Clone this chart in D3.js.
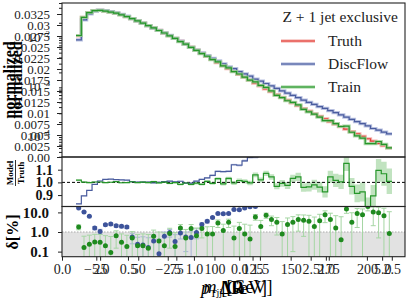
<!DOCTYPE html>
<html>
<head>
<meta charset="utf-8">
<script src="https://cdnjs.cloudflare.com/ajax/libs/d3/7.8.5/d3.min.js"></script>
<style>
body { margin: 0; background: #fff; }
text { font-family: "Liberation Serif", "DejaVu Serif", serif; }
</style>
</head>
<body>
<svg id="chart" width="411" height="304"></svg>
<script>
// normalized truth histogram, one value per bin
var truth = [0.01087, 0.02566, 0.0321, 0.0350, 0.0354, 0.0344, 0.0328, 0.0310, 0.0290, 0.0266,
  0.0242, 0.0218, 0.0196, 0.0175, 0.0157, 0.0140, 0.0124, 0.0110, 0.00968, 0.00850,
  0.00743, 0.00646, 0.00560, 0.00485, 0.00420, 0.00364, 0.00316, 0.00275, 0.00239, 0.00209,
  0.00183, 0.00160, 0.00140, 0.00122, 0.00107, 0.000933, 0.000815, 0.000713, 0.000626, 0.000550,
  0.000483, 0.000426, 0.000375, 0.000331, 0.000294, 0.000260, 0.000231, 0.000204, 0.000182, 0.000162,
  0.000144, 0.0001285, 0.000115, 0.0001028, 0.0000920, 0.0000823, 0.0000740, 0.0000665, 0.0000600];

// model / truth
var trainRatio = [1.018, 1.0016, 0.9976, 1.0031, 1.003, 0.998, 1.0009, 1.0065, 0.997, 0.9982,
  1.0049, 0.998, 1.002, 0.9985, 1.006, 0.9965, 1.002, 0.9915, 0.9982, 0.984,
  0.995, 0.985, 0.9935, 0.985, 1.008, 0.992, 1.029, 0.988, 1.031, 0.995,
  1.015, 1.008, 0.9956, 1.059, 1.019, 1.071, 1.043, 0.969, 0.992, 0.976,
  1.031, 1.043, 0.96, 0.965, 0.981, 0.962, 0.925, 1.043, 1.016, 1.004,
  1.15, 0.969, 0.913, 0.925, 0.80, 0.894, 1.095, 1.068, 1.0085];
var discRatio = [0.83, 0.894, 0.937, 0.984, 1.011, 1.024, 1.026, 1.021, 1.019, 1.018,
  1.0055, 1.0024, 1.0022, 1.0016, 0.9965, 1.0008, 1.006, 1.0095, 1.0033, 1.0089,
  0.9945, 0.9947, 1.0095, 1.024, 1.035, 1.055, 1.087, 1.085, 1.087, 1.139,
  1.135, 1.17, 1.196, 1.20, 1.25, 1.28, 1.31, 1.34, 1.36, 1.39,
  1.42, 1.45, 1.48, 1.51, 1.54, 1.57, 1.63, 1.66, 1.70, 1.72,
  1.74, 1.76, 1.78, 1.80, 1.82, 1.80, 1.86, 1.89, 1.92];

// delta [%]
var trainDelta = [1.8, 0.16, 0.24, 0.31, 0.3, 0.2, 0.09, 0.65, 0.3, 0.18,
  0.49, 0.2, 0.2, 0.15, 0.6, 0.35, 0.2, 0.85, 0.18, 1.6,
  0.5, 1.5, 0.65, 1.5, 0.8, 0.8, 2.9, 1.2, 3.1, 0.5,
  1.5, 0.8, 0.44, 5.9, 1.9, 7.1, 4.3, 3.1, 0.8, 2.4,
  3.1, 4.3, 4, 3.5, 1.9, 3.8, 7.5, 4.3, 1.6, 0.4,
  15, 3.1, 8.7, 7.5, 20, 10.6, 9.5, 6.8, 0.85];
var discDelta = [17, 10.6, 6.3, 1.6, 1.07, 2.37, 2.57, 2.1, 1.94, 1.8,
  0.55, 0.24, 0.22, 0.16, 0.35, 0.077, 0.6, 0.95, 0.33, 0.89,
  0.55, 0.53, 0.95, 2.4, 3.5, 5.5, 8.7, 8.5, 8.7, 13.9,
  13.5, 17, 19.6, 20, 25, 28, 31, 34, 36, 39,
  42, 45, 48, 51, 54, 57, 63, 66, 70, 72,
  74, 76, 78, 80, 82, 80, 86, 89, 92];

// statistical uncertainty [%]
var trainErr = [0.5, 0.45, 0.45, 0.45, 0.45, 0.45, 0.5, 0.5, 0.5, 0.5,
  0.55, 0.55, 0.6, 0.6, 0.65, 0.65, 0.7, 0.7, 0.75, 0.8,
  0.85, 0.9, 0.95, 1.0, 1.05, 1.1, 1.2, 1.3, 1.4, 1.5,
  1.6, 1.7, 1.8, 1.9, 2.0, 2.1, 2.2, 2.4, 2.6, 2.8,
  3.0, 3.2, 3.4, 3.6, 3.9, 4.2, 4.5, 4.8, 5.2, 5.6,
  6.0, 6.5, 7.0, 7.5, 8.0, 8.5, 9.0, 9.5, 10];
var discErr = [0.3, 0.3, 0.3, 0.3, 0.3, 0.3, 0.3, 0.3, 0.3, 0.3,
  0.3, 0.3, 0.35, 0.35, 0.35, 0.35, 0.4, 0.4, 0.4, 0.45,
  0.45, 0.5, 0.5, 0.55, 0.6, 0.65, 0.7, 0.75, 0.8, 0.85,
  0.9, 1.0, 1.0, 1.1, 1.2, 1.3, 1.4, 1.5, 1.6, 1.7,
  1.8, 1.9, 2.0, 2.1, 2.2, 2.4, 2.6, 2.8, 3.0, 3.2,
  3.4, 3.6, 3.8, 4.0, 4.2, 4.4, 4.6, 4.8, 5.0];

var legendTitle = "Z + 1 jet exclusive";
var seriesNames = ["Truth", "DiscFlow", "Train"];
var seriesColors = ["#e3403a", "#4a5c9e", "#26962a"];
var bandColors = ["#f2a19c", "#a7b2d8", "#98d096"];

var logTicks = [1e-4, 1e-3, 1e-2];
var linTicks = [0, 0.0025, 0.005, 0.0075, 0.01, 0.0125, 0.015, 0.0175, 0.02, 0.0225, 0.025, 0.0275, 0.03, 0.0325];
var ratioTicks = [0.9, 1.0, 1.1];
var deltaTicks = [0.1, 1, 10];
var drTicks = [0, 0.5, 1, 1.5, 2, 2.5];
var etaTicks = [-5, -2.5, 0, 2.5, 5];
var ptTicks = [25, 50, 75, 100, 125, 150, 175, 200];

var L = 62, R = 405;
var mainTop = 3, mainBot = 157, ratioBot = 206.5, deltaBot = 256.7;
var n = truth.length;
var idx = d3.range(n);

var svg = d3.select("#chart");

var x = d3.scaleLinear().domain([-2.61, 61.43]).range([L, R]);
var yMain = d3.scaleLog().domain([3.95e-5, 0.05]).range([mainBot, mainTop]);
var yLin = d3.scaleLinear().domain([0, 0.035]).range([mainBot, mainTop]);
var yRatio = d3.scaleLinear().domain([0.81, 1.2]).range([ratioBot, mainBot]);
var yDelta = d3.scaleLog().domain([0.055, 20]).range([deltaBot, ratioBot]);

var train = truth.map(function(d, i) { return d * trainRatio[i]; });
var disc = truth.map(function(d, i) { return d * discRatio[i]; });

function clip(id, y0, y1) {
  svg.append("clipPath").attr("id", id).append("rect")
    .attr("x", L).attr("y", y0).attr("width", R - L).attr("height", y1 - y0);
}
clip("cMain", mainTop, mainBot);
clip("cRatio", mainBot, ratioBot);
clip("cDelta", ratioBot, deltaBot);

function stepPath(vals, y) {
  var p = "";
  vals.forEach(function(d, i) {
    p += i ? "H" + x(i) + "V" + y(d) : "M" + x(0) + "," + y(d);
  });
  return p + "H" + x(vals.length);
}

function band(lo, hi, y) {
  var pts = idx.concat([n]);
  return d3.area()
    .curve(d3.curveStepAfter)
    .x(function(i) { return x(i); })
    .y0(function(i) { return y(lo[Math.min(i, n - 1)]); })
    .y1(function(i) { return y(hi[Math.min(i, n - 1)]); })(pts);
}

// ---- main panel
var gMain = svg.append("g").attr("clip-path", "url(#cMain)");
[truth, disc, train].forEach(function(s, k) {
  gMain.append("path").attr("d", stepPath(s, yMain))
    .attr("fill", "none").attr("stroke", bandColors[k]).attr("stroke-width", 3.2).attr("opacity", 0.8);
  gMain.append("path").attr("d", stepPath(s, yMain))
    .attr("fill", "none").attr("stroke", seriesColors[k]).attr("stroke-width", 1.2);
});

// ---- ratio panel
var gRatio = svg.append("g").attr("clip-path", "url(#cRatio)");
gRatio.append("path")
  .attr("d", band(discRatio.map(function(d, i) { return d - discErr[i] / 100; }),
                  discRatio.map(function(d, i) { return d + discErr[i] / 100; }), yRatio))
  .attr("fill", bandColors[1]).attr("opacity", 0.6);
gRatio.append("path")
  .attr("d", band(trainRatio.map(function(d, i) { return d - trainErr[i] / 100; }),
                  trainRatio.map(function(d, i) { return d + trainErr[i] / 100; }), yRatio))
  .attr("fill", bandColors[2]).attr("opacity", 0.6);
gRatio.append("line").attr("x1", L).attr("x2", R).attr("y1", yRatio(1)).attr("y2", yRatio(1))
  .attr("stroke", "#000").attr("stroke-width", 1).attr("stroke-dasharray", "3,2");
gRatio.append("path").attr("d", stepPath(discRatio, yRatio))
  .attr("fill", "none").attr("stroke", seriesColors[1]).attr("stroke-width", 1.2);
gRatio.append("path").attr("d", stepPath(trainRatio, yRatio))
  .attr("fill", "none").attr("stroke", seriesColors[2]).attr("stroke-width", 1.2);

// ---- delta panel
var gDelta = svg.append("g").attr("clip-path", "url(#cDelta)");
gDelta.append("rect").attr("x", L).attr("width", R - L)
  .attr("y", yDelta(1)).attr("height", deltaBot - yDelta(1)).attr("fill", "#e2e2e2");
gDelta.append("line").attr("x1", L).attr("x2", R).attr("y1", yDelta(1)).attr("y2", yDelta(1))
  .attr("stroke", "#aaa").attr("stroke-width", 1).attr("stroke-dasharray", "1.5,1.5");

function errorBars(vals, errs, color) {
  var g = gDelta.append("g").attr("stroke", color).attr("stroke-width", 1);
  vals.forEach(function(d, i) {
    var cx = x(i + 0.5);
    var hi = yDelta(d + errs[i]);
    var lo = d - errs[i] > 0 ? yDelta(d - errs[i]) : deltaBot + 5;
    g.append("line").attr("x1", cx).attr("x2", cx).attr("y1", lo).attr("y2", hi);
    g.append("line").attr("x1", cx - 2.5).attr("x2", cx + 2.5).attr("y1", hi).attr("y2", hi);
    if (d - errs[i] > 0)
      g.append("line").attr("x1", cx - 2.5).attr("x2", cx + 2.5).attr("y1", lo).attr("y2", lo);
  });
}
errorBars(discDelta, discErr, "#aab4d8");
errorBars(trainDelta, trainErr, "#a5d6a3");

gDelta.selectAll("circle.disc").data(discDelta).enter().append("circle")
  .attr("cx", function(d, i) { return x(i + 0.5); })
  .attr("cy", function(d) { return yDelta(d); })
  .attr("r", 2.5).attr("fill", "#3d539a");
gDelta.selectAll("circle.train").data(trainDelta).enter().append("circle")
  .attr("cx", function(d, i) { return x(i + 0.5); })
  .attr("cy", function(d) { return yDelta(d); })
  .attr("r", 2.5).attr("fill", "#1f8a1f");

// ---- frames
[[mainTop, mainBot], [mainBot, ratioBot], [ratioBot, deltaBot]].forEach(function(p) {
  svg.append("rect").attr("x", L).attr("y", p[0]).attr("width", R - L).attr("height", p[1] - p[0])
    .attr("fill", "none").attr("stroke", "#222").attr("stroke-width", 1.1);
});

// ---- y axes
function cleanAxis(g) { g.select(".domain").remove(); g.selectAll("line").attr("stroke", "#222"); }

var ayMain = svg.append("g").attr("transform", "translate(" + L + ",0)")
  .call(d3.axisLeft(yMain).tickSize(3).tickFormat(""));
cleanAxis(ayMain);
var ayLin = svg.append("g").attr("transform", "translate(" + L + ",0)")
  .call(d3.axisLeft(yLin).tickValues(linTicks).tickSize(5).tickPadding(7)
    .tickFormat(function(d) { return d === 0 ? "0.00" : d3.format(".4~f")(d); }));
cleanAxis(ayLin);
ayLin.selectAll("text").attr("font-size", 13).attr("fill", "#222")
  .style("font-family", "'Liberation Serif', serif");

logTicks.forEach(function(v) {
  var t = svg.append("text").attr("x", 50).attr("y", yMain(v) + 4)
    .attr("text-anchor", "end").attr("font-size", 13).attr("fill", "#222");
  t.append("tspan").text("10");
  t.append("tspan").attr("dy", -5).attr("font-size", 9).text("−" + Math.round(-Math.log10(v)));
});

var ayRatio = svg.append("g").attr("transform", "translate(" + L + ",0)")
  .call(d3.axisLeft(yRatio).tickValues(ratioTicks).tickSize(4).tickPadding(5).tickFormat(d3.format(".1f")));
cleanAxis(ayRatio);
ayRatio.selectAll("text").attr("font-size", 14).attr("font-weight", "bold").attr("fill", "#111")
  .style("font-family", "'Liberation Serif', serif");

var ayDelta = svg.append("g").attr("transform", "translate(" + L + ",0)")
  .call(d3.axisLeft(yDelta).tickValues(deltaTicks).tickSize(4).tickPadding(9).tickFormat(d3.format(".1f")));
cleanAxis(ayDelta);
ayDelta.selectAll("text").attr("font-size", 15).attr("font-weight", "bold").attr("fill", "#111")
  .style("font-family", "'Liberation Serif', serif");

// ---- overlapping x axes
var xAxes = [
  { s: d3.scaleLinear().domain([0, 2.6]).range([L, R]), t: drTicks, f: d3.format(".1f") },
  { s: d3.scaleLinear().domain([-6.2, 5.8]).range([L, R]), t: etaTicks, f: d3.format(".1f") },
  { s: d3.scaleLinear().domain([0, 225]).range([L, R]), t: ptTicks, f: d3.format("d") }
];
xAxes.forEach(function(a) {
  var g = svg.append("g").attr("transform", "translate(0," + deltaBot + ")")
    .call(d3.axisBottom(a.s).tickValues(a.t).tickSize(4).tickPadding(3)
      .tickFormat(function(d) { return a.f(d).replace("-", "−"); }));
  cleanAxis(g);
  g.selectAll("text").attr("font-size", 14).attr("fill", "#222")
    .style("font-family", "'Liberation Serif', serif");
});

// ---- axis titles
["normalized", "normalized"].forEach(function(s, k) {
  svg.append("text").attr("transform", "translate(" + (15 + k * 7) + ",80) rotate(-90)")
    .attr("text-anchor", "middle").attr("font-size", 16).attr("font-weight", "bold").text(s);
});
svg.append("text").attr("transform", "translate(13,173) rotate(-90)")
  .attr("text-anchor", "middle").attr("font-size", 9).attr("font-weight", "bold").text("Model");
svg.append("line").attr("x1", 15.5).attr("x2", 15.5).attr("y1", 160).attr("y2", 186)
  .attr("stroke", "#000").attr("stroke-width", 0.8);
svg.append("text").attr("transform", "translate(24,173) rotate(-90)")
  .attr("text-anchor", "middle").attr("font-size", 9).attr("font-weight", "bold").text("Truth");
svg.append("text").attr("transform", "translate(18,232) rotate(-90)")
  .attr("text-anchor", "middle").attr("font-size", 16).attr("font-weight", "bold").text("δ[%]");

var xl = svg.append("text").attr("x", 234).attr("y", 294).attr("text-anchor", "middle").attr("font-size", 18);
xl.append("tspan").attr("font-style", "italic").text("p");
xl.append("tspan").attr("font-size", 11).attr("dy", 3).text("T");
xl.append("tspan").attr("dy", -3).text(" [GeV]");
svg.append("text").attr("x", 232).attr("y", 294).attr("text-anchor", "middle")
  .attr("font-size", 18).attr("font-weight", "bold").text("ΔR");
var xl2 = svg.append("text").attr("x", 238).attr("y", 293).attr("text-anchor", "middle").attr("font-size", 18);
xl2.append("tspan").attr("font-style", "italic").text("m");
xl2.append("tspan").attr("font-size", 10).attr("dy", 3).text("jj");
xl2.append("tspan").attr("dy", -3).text(" [GeV]");

// ---- legend
svg.append("text").attr("x", 398).attr("y", 22).attr("text-anchor", "end")
  .attr("font-size", 15.5).attr("fill", "#222").text(legendTitle);
seriesNames.forEach(function(s, k) {
  var yy = 41 + k * 23;
  svg.append("line").attr("x1", 281).attr("x2", 315).attr("y1", yy).attr("y2", yy)
    .attr("stroke", bandColors[k]).attr("stroke-width", 3);
  svg.append("line").attr("x1", 281).attr("x2", 315).attr("y1", yy).attr("y2", yy)
    .attr("stroke", seriesColors[k]).attr("stroke-width", 1);
  svg.append("text").attr("x", 328).attr("y", yy + 5).attr("font-size", 15.5).attr("fill", "#222").text(s);
});
</script>
</body>
</html>
